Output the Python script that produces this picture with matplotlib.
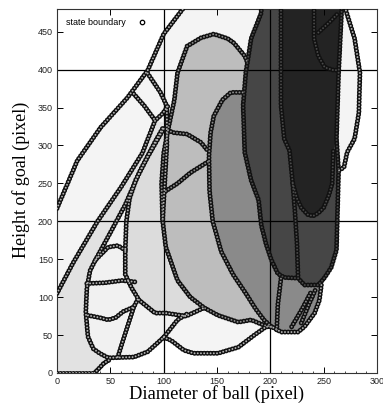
import matplotlib
matplotlib.use("Agg")
import matplotlib.pyplot as plt
from matplotlib.lines import Line2D

plt.rcParams["lines.scale_dashes"] = False

# state regions (polygon vertices in pixel units of the ball / goal space)
region_outer = [(0, 0), (0, 217), (19, 280), (41, 324), (66, 363), (85, 399), (100, 447), (119, 482),
                (270, 482), (279, 441), (284, 396), (283, 343), (279, 309), (272, 291), (269, 271),
                (264, 267), (262, 162), (257, 139), (251, 126), (248, 118), (246, 96), (241.5, 79),
                (232, 61), (226, 54), (210, 54), (204, 59), (201, 61), (196, 61), (185, 50), (170, 34),
                (151, 26), (128, 26), (119, 30), (107, 43), (100, 47), (85, 28), (72, 21), (50, 18),
                (44, 13), (38, 4), (35, 0)]
region_corner = [(0, 0), (35, 0), (38, 4), (44, 13), (48, 20), (40, 26), (34, 32), (29, 48), (27, 80),
                 (28, 112), (31, 135), (36, 149), (50, 185), (64, 222), (78, 267), (92, 305), (100, 330),
                 (92, 333), (80, 290), (60, 245), (38, 200), (15, 145), (0, 105)]
region_loop = [(48, 20), (72, 21), (85, 28), (100, 47), (113, 70), (122, 78), (102, 79), (92, 79),
               (77, 96), (70, 112), (65, 130), (64, 162), (57, 168), (48, 166), (36, 149), (31, 135),
               (28, 112), (27, 80), (29, 48), (34, 32), (40, 26)]
region_left = [(64, 130), (64, 162), (65, 200), (68, 230), (74, 255), (85, 285), (100, 322), (104, 330),
               (110, 200), (125, 110), (138, 86), (121, 75), (102, 79), (92, 79), (77, 96), (70, 112)]
region_mid = [(99, 201), (98, 250), (100, 290), (104, 320), (107, 340), (110, 360), (113, 396),
              (122, 431), (135, 442), (147, 447), (160, 441), (166, 435), (176, 418), (182, 400),
              (190, 300), (200, 200), (205, 100), (201, 61), (194, 63), (182, 70), (170, 67), (151, 76),
              (138, 86), (125, 100), (113, 122), (102, 166)]
region_m2 = [(163, 370), (175, 370), (180, 300), (195, 200), (230, 125), (248, 118), (246, 96),
             (241.5, 79), (232, 61), (226, 54), (210, 54), (204, 59), (201, 61), (194, 70), (186, 85),
             (177, 105), (165, 130), (154, 160), (146, 200), (143, 240), (142.5, 287), (144, 317),
             (147, 339), (155, 360)]
region_d1 = [(192, 482), (267, 482), (264, 396), (262, 309), (264, 267), (262, 162), (257, 139),
             (251, 126), (245, 116), (232, 116), (226, 125), (213, 126), (207, 131), (201, 149),
             (196, 170), (191.5, 195), (189, 228), (182, 254), (176, 291), (174.5, 353), (177, 396),
             (182, 441), (191.5, 475)]
region_d2 = [(210, 482), (267, 482), (264, 396), (262, 309), (259, 293), (258, 250), (255, 235),
             (250, 218), (245, 211), (240, 207), (235, 209), (229, 218), (225, 230), (221, 250),
             (218, 293), (213, 309), (210, 353)]

regions = [
    (region_outer, "#f4f4f4"),
    (region_corner, "#e2e2e2"),
    (region_loop, "#f1f1f1"),
    (region_left, "#dcdcdc"),
    (region_mid, "#bdbdbd"),
    (region_m2, "#8a8a8a"),
    (region_d1, "#464646"),
    (region_d2, "#232323"),
]

# state boundaries
b_outer = [(0, 217), (19, 280), (41, 324), (66, 363), (85, 399), (100, 447), (119, 482)]
b_outer_right = [(270, 482), (279, 441), (284, 396), (283, 343), (279, 309), (272, 291), (269, 271), (264, 267)]
b_diag2 = [(0, 105), (15, 145), (38, 200), (60, 245), (80, 290), (92, 333), (99, 342), (104, 352)]
b_diag3 = [(36, 149), (50, 185), (64, 222), (78, 267), (92, 305), (100, 325)]
b_j1 = [(85, 395), (97, 370), (103, 352), (103, 300), (101, 250), (99, 201)]
b_j2 = [(72, 368), (82, 352), (92, 333)]
b_left = [(100, 322), (85, 285), (74, 255), (68, 230), (65, 200), (64, 162), (64, 130), (70, 112),
          (77, 96), (92, 79), (102, 79), (121, 75), (138, 86)]
b_loop = [(64, 162), (57, 168), (48, 166), (36, 149), (31, 135), (28, 112), (27, 80), (29, 48), (34, 32),
          (40, 26), (48, 20), (72, 21), (85, 28), (100, 47), (113, 70), (122, 78)]
b_h1 = [(28, 118), (45, 119), (61, 122), (74, 120)]
b_h2 = [(29, 76), (40, 73), (48, 70), (55, 73), (62, 81), (72, 87)]
b_v1 = [(57, 21), (61, 39), (66, 61), (72, 87), (76, 98)]
b_white = [(35, 0), (38, 4), (44, 13), (50, 18)]
b_bottom = [(0, 0.5), (35, 0.5)]
b_lens = [(100, 47), (107, 43), (119, 30), (128, 26), (151, 26), (170, 34), (185, 50), (196, 61),
          (201, 61), (204, 59), (210, 54), (226, 54), (232, 61), (241.5, 79), (246, 96), (248, 118)]
b_mid = [(201, 61), (194, 63), (182, 70), (170, 67), (151, 76), (138, 86), (125, 100), (113, 122),
         (102, 166), (99, 201), (98, 250), (100, 290), (104, 320), (107, 340), (110, 360), (113, 396),
         (122, 431), (135, 442), (147, 447), (160, 441), (166, 435), (176, 418), (179, 408)]
b_mid_in1 = [(104, 320), (109, 317), (122, 315), (135, 304), (142, 292)]
b_mid_in2 = [(102, 240), (113, 250), (125, 264), (142, 279)]
b_m2 = [(201, 61), (194, 70), (186, 85), (177, 105), (165, 130), (154, 160), (146, 200), (143, 240),
        (142.5, 287), (144, 317), (147, 339), (155, 360), (163, 370), (175, 370)]
b_d1 = [(191.5, 482), (191.5, 475), (182, 441), (177, 396), (174.5, 353), (176, 291), (182, 254),
        (189, 228), (191.5, 195), (196, 170), (201, 149), (207, 131), (213, 126), (226, 125),
        (232, 116), (245, 116), (251, 126), (257, 139), (262, 162), (264, 267), (262, 309),
        (264, 396), (267, 482)]
b_d1_line = [(210, 482), (210, 353), (213, 309), (218, 293), (221, 250), (223, 214), (225, 170), (226, 125)]
b_tear = [(221, 250), (225, 230), (229, 218), (235, 209), (240, 207), (245, 211), (250, 218),
          (255, 235), (258, 250), (259, 293)]
b_lobe = [(241, 482), (241, 441), (245, 418), (251, 403), (260, 399), (264, 400)]
b_lobe2 = [(245, 449), (255, 462), (264, 475)]
b_low1 = [(206, 57), (207, 90), (210, 125)]
b_low2 = [(220, 61), (230, 85), (239, 109)]
b_low3 = [(229, 66), (236, 90), (243, 112)]

light_in, mid_in, dark_in = "#b4b4b4", "#8c8c8c", "#4a4a4a"
boundaries = [
    (b_outer, light_in), (b_outer_right, light_in), (b_diag2, light_in), (b_diag3, light_in),
    (b_j1, light_in), (b_j2, light_in), (b_left, light_in), (b_loop, light_in), (b_h1, light_in),
    (b_h2, light_in), (b_v1, light_in), (b_white, light_in), (b_bottom, light_in), (b_lens, light_in),
    (b_mid, mid_in), (b_mid_in1, mid_in), (b_mid_in2, mid_in), (b_m2, mid_in), (b_d1, dark_in),
    (b_d1_line, dark_in), (b_tear, dark_in), (b_lobe, dark_in), (b_lobe2, dark_in),
    (b_low1, mid_in), (b_low2, mid_in), (b_low3, mid_in),
]

x_ticks = [0, 50, 100, 150, 200, 250, 300]
y_ticks = [0, 50, 100, 150, 200, 250, 300, 350, 400, 450]
x_grid = [100, 200]
y_grid = [200, 400]

fig = plt.figure(figsize=(3.83, 4.05), dpi=100)
ax = fig.add_axes([57 / 383, 32 / 405, 320 / 383, 364 / 405])

for pts, col in regions:
    ax.fill([p[0] for p in pts], [p[1] for p in pts], color=col, lw=0, zorder=1)

for gx in x_grid:
    ax.axvline(gx, color="black", lw=0.9, zorder=2)
for gy in y_grid:
    ax.axhline(gy, color="black", lw=0.9, zorder=2)

bead = (0, (0.01, 2.3))
for pts, inner in boundaries:
    xs = [p[0] for p in pts]
    ys = [p[1] for p in pts]
    ax.plot(xs, ys, color="#111111", lw=3.6, linestyle=bead, dash_capstyle="round", zorder=3)
    ax.plot(xs, ys, color=inner, lw=1.4, linestyle=bead, dash_capstyle="round", zorder=4)

ax.set_xlim(0, 300)
ax.set_ylim(0, 480)
ax.set_xticks(x_ticks)
ax.set_yticks(y_ticks)
ax.set_xticks(range(0, 301, 10), minor=True)
ax.tick_params(which="major", direction="in", top=True, right=True, length=4, width=0.7,
               labelsize=6.5, pad=3, labelcolor="#222222")
ax.tick_params(which="minor", axis="x", direction="in", top=False, length=1.5, width=0.5)
for lab in ax.get_xticklabels() + ax.get_yticklabels():
    lab.set_family("Liberation Sans")
for sp in ax.spines.values():
    sp.set_linewidth(0.8)
    sp.set_color("#333333")

ax.set_xlabel("Diameter of ball (pixel)", family="Liberation Serif", fontsize=13.2, labelpad=-1)
ax.set_ylabel("Height of goal (pixel)", family="Liberation Serif", fontsize=13, labelpad=3)
ax.yaxis.set_label_coords(-0.085, 0.53)

handle = Line2D([], [], ls="none", marker="o", mfc="none", mec="black", ms=3.2, mew=0.9)
leg = ax.legend([handle], ["state boundary"], loc="upper left", markerfirst=False, frameon=False,
                prop={"family": "Liberation Sans", "size": 6.5}, handlelength=1.5,
                handletextpad=1.0, borderaxespad=0.6)
leg.set_zorder(6)

fig.savefig("out.png", dpi=100)
